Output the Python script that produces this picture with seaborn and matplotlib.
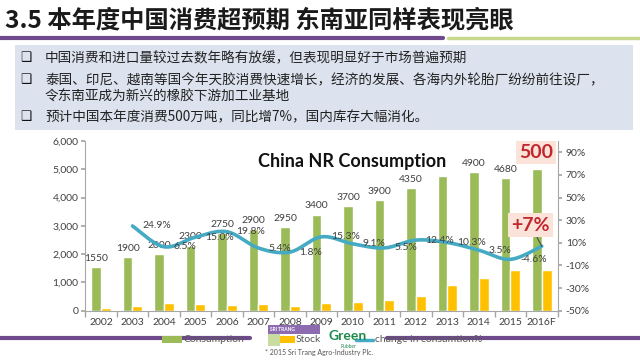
import numpy as np
import pandas as pd

import matplotlib
matplotlib.use("Agg")

import matplotlib.pyplot as plt
from matplotlib.patches import Rectangle
from matplotlib.lines import Line2D
from matplotlib.ticker import FuncFormatter, FixedLocator
import seaborn as sns


# -------------------------------------------------------
# DATA
# -------------------------------------------------------

years = ["2002", "2003", "2004", "2005", "2006", "2007", "2008", "2009",
         "2010", "2011", "2012", "2013", "2014", "2015", "2016F"]
consumption = [1550, 1900, 2000, 2300, 2750, 2900, 2950, 3400,
               3700, 3900, 4350, 4760, 4900, 4680, 5000]
consumption_labels = ["1550", "1900", "2000", "2300", "2750", "2900", "2950", "3400",
                      "3700", "3900", "4350", "", "4900", "4680", ""]
stock = [80, 160, 280, 240, 210, 240, 160, 260,
         320, 380, 530, 910, 1170, 1440, 1440]
change_years = years[1:]
change_pct = [24.9, 6.5, 15.0, 19.8, 5.4, 1.8, 15.3, 9.1,
              5.5, 12.4, 10.3, 3.5, -4.6, 7.0]
change_labels = ["24.9%", "6.5%", "15.0%", "19.8%", "5.4%", "1.8%", "15.3%", "9.1%",
                 "5.5%", "12.4%", "10.3%", "3.5%", "-4.6%", ""]

left_ticks = [0, 1000, 2000, 3000, 4000, 5000, 6000]
right_ticks = [-50, -30, -10, 10, 30, 50, 70, 90]

title = "3.5 本年度中国消费超预期 东南亚同样表现亮眼"
bullets = [
    ("中国消费和进口量较过去数年略有放缓，但表现明显好于市场普遍预期", True),
    ("泰国、印尼、越南等国今年天胶消费快速增长，经济的发展、各海内外轮胎厂纷纷前往设厂，", True),
    ("令东南亚成为新兴的橡胶下游加工业基地", False),
    ("预计中国本年度消费500万吨，同比增7%，国内库存大幅消化。", True),
]

GREEN = "#9BBB59"
YELLOW = "#FFC000"
TEAL = "#45AAC4"
PURPLE = "#6E4A8C"
RED = "#C0282D"


# -------------------------------------------------------
# CONFIG
# -------------------------------------------------------

sns.set_theme(style="white")
plt.rcParams["font.family"] = ["Lato", "DejaVu Sans"]
CJK = ["Noto Sans CJK SC", "DejaVu Sans"]

W, H = 640, 360


def fx(x):
    return x / W


def fy(y):
    return 1 - y / H


def smooth(xs, ys, n=24):
    # courbe lissée façon Excel (Catmull-Rom / Bezier)
    p = np.column_stack([xs, ys]).astype(float)
    out = []
    for i in range(len(p) - 1):
        p0 = p[i - 1] if i > 0 else p[i]
        p1, p2 = p[i], p[i + 1]
        p3 = p[i + 2] if i + 2 < len(p) else p[i + 1]
        c1 = p1 + (p2 - p0) / 6
        c2 = p2 - (p3 - p1) / 6
        t = np.linspace(0, 1, n)[:, None]
        seg = ((1 - t) ** 3) * p1 + 3 * ((1 - t) ** 2) * t * c1 \
            + 3 * (1 - t) * (t ** 2) * c2 + (t ** 3) * p2
        out.append(seg if i == 0 else seg[1:])
    out = np.vstack(out)
    return out[:, 0], out[:, 1]


fig = plt.figure(figsize=(6.4, 3.6), dpi=100)
fig.patch.set_facecolor("white")

# -------------------------------------------------------
# EN-TETE
# -------------------------------------------------------

fig.text(fx(5), fy(20), title, family=CJK, fontsize=17.5, fontweight="bold",
         color="#1a1a1a", ha="left", va="center")
fig.add_artist(Line2D([fx(0), fx(443)], [fy(38), fy(38)], color=PURPLE, lw=3))
fig.add_artist(Line2D([fx(448), fx(640)], [fy(38), fy(38)], color="#C8D98E", lw=2.5))

fig.add_artist(Rectangle((fx(15), fy(130)), fx(618), 85 / H,
                         transform=fig.transFigure, facecolor="#DCE2EE",
                         edgecolor="none", zorder=0))

rows_y = [58, 80, 97, 117]
for (txt, has_box), y in zip(bullets, rows_y):
    if has_box:
        fig.text(fx(26), fy(y), "❑", family=["DejaVu Sans"], fontsize=9,
                 color="#111111", ha="center", va="center")
    fig.text(fx(45), fy(y), txt, family=CJK, fontsize=9.8, color="#222222",
             ha="left", va="center")

# -------------------------------------------------------
# GRAPHIQUE
# -------------------------------------------------------

ax = fig.add_axes([fx(85.25), fy(310.7), 472.25 / W, (310.7 - 141) / H])
ax.set_facecolor("none")

df = pd.DataFrame({
    "year": years * 2,
    "value": consumption + stock,
    "series": ["Consumption"] * len(years) + ["Stock"] * len(years),
})
sns.barplot(data=df, x="year", y="value", hue="series",
            palette=[GREEN, YELLOW], saturation=1, width=0.62, gap=0,
            legend=False, ax=ax)

ax.set_xlim(-0.5, len(years) - 0.5)
ax.set_ylim(0, 6000)
ax.yaxis.set_major_locator(FixedLocator(left_ticks))
ax.yaxis.set_major_formatter(FuncFormatter(lambda v, p: f"{int(v):,}"))
ax.set_xlabel("")
ax.set_ylabel("")
for s in ["top", "right"]:
    ax.spines[s].set_visible(False)
for s in ["left", "bottom"]:
    ax.spines[s].set_color("#A6A6A6")
    ax.spines[s].set_linewidth(0.8)
ax.tick_params(axis="y", direction="out", length=3, color="#A6A6A6",
               labelsize=7.5, labelcolor="#404040", pad=2, left=True)
ax.tick_params(axis="x", length=0, labelsize=7.5, labelcolor="#404040", pad=5)
ax.set_xticks(np.arange(-0.5, len(years), 1.0), minor=True)
ax.tick_params(axis="x", which="minor", direction="out", length=4,
               color="#A6A6A6", bottom=True)

# étiquettes consommation au-dessus des barres vertes
for i, (v, lab) in enumerate(zip(consumption, consumption_labels)):
    if lab:
        ax.annotate(lab, (i - 0.155, v), xytext=(0, 3), textcoords="offset points",
                    ha="center", va="bottom", fontsize=7.5, color="#404040")

ax.text(0.565, 0.88, "China NR Consumption", transform=ax.transAxes,
        fontsize=13, fontweight="bold", color="#111111", ha="center", va="center",
        bbox=dict(facecolor="white", edgecolor="none", pad=0.5), zorder=5)

# axe secondaire : variation
ax2 = ax.twinx()
xs = [years.index(y) for y in change_years]
sx, sy = smooth(xs, change_pct)
ax2.plot(sx, sy, color=TEAL, lw=2.6, solid_capstyle="round", zorder=3)
ax2.set_ylim(-50, 100)
ax2.yaxis.set_major_locator(FixedLocator(right_ticks))
ax2.yaxis.set_major_formatter(FuncFormatter(lambda v, p: f"{int(v)}%"))
for s in ["top", "left", "bottom"]:
    ax2.spines[s].set_visible(False)
ax2.spines["right"].set_color("#A6A6A6")
ax2.spines["right"].set_linewidth(0.8)
ax2.tick_params(axis="y", direction="out", length=3, color="#A6A6A6",
                labelsize=7.5, labelcolor="#404040", pad=3, right=True)
ax2.grid(False)
ax.grid(False)

for x, v, lab in zip(xs, change_pct, change_labels):
    if lab:
        ax2.annotate(lab, (x, v), xytext=(7, 0), textcoords="offset points",
                     ha="left", va="center", fontsize=7.5, color="#404040", zorder=4)

# encadrés rouges
last = len(years) - 1
ax.annotate("500", (last, consumption[-1]), xytext=(-4, 12), textcoords="offset points",
            ha="center", va="center", fontsize=14, fontweight="bold", color=RED,
            bbox=dict(facecolor="#FBE3DA", edgecolor="none", pad=2), zorder=6,
            annotation_clip=False)
ax2.annotate("+7%", (last, change_pct[-1]), xytext=(-8, 15), textcoords="offset points",
             ha="center", va="center", fontsize=14, fontweight="bold", color=RED,
             bbox=dict(facecolor="#FBE3DA", edgecolor="none", pad=2.5), zorder=6,
             arrowprops=dict(arrowstyle="-", color="#404040", lw=0.7, shrinkA=0, shrinkB=0))

# -------------------------------------------------------
# PIED DE PAGE / LEGENDE
# -------------------------------------------------------

fig.add_artist(Line2D([fx(0), fx(250)], [fy(338), fy(338)], color=PURPLE, lw=3, zorder=1))
fig.add_artist(Line2D([fx(387), fx(640)], [fy(338), fy(338)], color=PURPLE, lw=3, zorder=1))

fig.add_artist(Rectangle((fx(162), fy(343)), 20 / W, 7 / H, transform=fig.transFigure,
                         facecolor=GREEN, edgecolor="none", zorder=2))
fig.text(fx(183), fy(340), "Consumption", fontsize=7.5, color="#595959",
         ha="left", va="center", zorder=3)
fig.add_artist(Rectangle((fx(280), fy(343)), 15 / W, 7 / H, transform=fig.transFigure,
                         facecolor=YELLOW, edgecolor="none", zorder=2))
fig.text(fx(296), fy(340), "Stock", fontsize=7.5, color="#595959",
         ha="left", va="center", zorder=3)
fig.add_artist(Line2D([fx(356), fx(373)], [fy(340), fy(340)], color=TEAL, lw=2.5, zorder=2))
fig.text(fx(375), fy(340), "change in consumtion%", fontsize=7.5, color="#595959",
         ha="left", va="center", zorder=3)

# logos (approximation)
fig.add_artist(Rectangle((fx(268), fy(334)), 52 / W, 9 / H, transform=fig.transFigure,
                         facecolor="#8C6BB1", edgecolor="none", zorder=2))
fig.text(fx(282), fy(329.5), "SRI TRANG", fontsize=3.5, color="white", fontweight="bold",
         ha="center", va="center", zorder=3)
fig.add_artist(Rectangle((fx(268), fy(346)), 12 / W, 12 / H, transform=fig.transFigure,
                         facecolor="#C9DDA0", edgecolor="none", zorder=2))
fig.text(fx(348), fy(336), "Green", fontsize=10, color="#1F8A4C", fontweight="bold",
         ha="center", va="center", zorder=3)
fig.text(fx(348), fy(346), "Rubber", fontsize=3.5, color="#1F8A4C",
         ha="center", va="center", zorder=3)

fig.text(fx(265), fy(353), "* 2015 Sri Trang Agro-Industry Plc.", fontsize=5,
         color="#555555", ha="left", va="center")

plt.savefig("out.png", dpi=100)
plt.close()
